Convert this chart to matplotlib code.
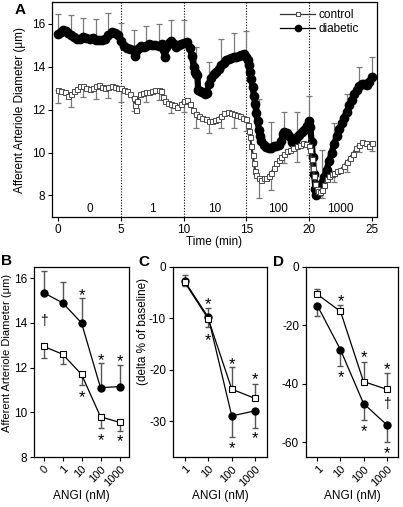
import numpy as np
import matplotlib
matplotlib.use("Agg")
import matplotlib.pyplot as plt
import matplotlib.transforms as mtransforms
from matplotlib.lines import Line2D

plt.rcParams["font.family"] = ["Liberation Sans", "DejaVu Sans"]
plt.rcParams["axes.unicode_minus"] = False

# ── Panel A: continuous diameter recordings ───────────────────────────────
ctl_t = [0.0, 0.25, 0.5, 0.75, 1.0, 1.25, 1.5, 1.75, 2.0, 2.25, 2.5, 2.75, 3.0, 3.25,
         3.5, 3.75, 4.0, 4.25, 4.5, 4.75, 5.0, 5.25, 5.5, 5.75, 6.0, 6.1, 6.2, 6.3,
         6.5, 6.75, 7.0, 7.25, 7.5, 7.75, 8.0, 8.2, 8.35, 8.5, 8.75, 9.0, 9.25, 9.5,
         9.75, 10.0, 10.25, 10.5, 10.75, 11.0, 11.25, 11.5, 11.75, 12.0, 12.25, 12.5,
         12.75, 13.0, 13.25, 13.5, 13.75, 14.0, 14.25, 14.5, 14.75, 15.0, 15.1, 15.2,
         15.3, 15.4, 15.5, 15.6, 15.7, 15.8, 16.0, 16.2, 16.4, 16.6, 16.8, 17.0, 17.2,
         17.4, 17.6, 17.8, 18.0, 18.25, 18.5, 18.75, 19.0, 19.25, 19.5, 19.75, 20.0,
         20.1, 20.2, 20.3, 20.4, 20.5, 20.6, 20.75, 20.9, 21.0, 21.2, 21.4, 21.6, 21.8,
         22.0, 22.25, 22.5, 22.75, 23.0, 23.25, 23.5, 23.75, 24.0, 24.25, 24.5, 24.75,
         25.0]
ctl_d = [12.9, 12.85, 12.8, 12.65, 12.7, 12.85, 12.95, 13.1, 13.1, 12.98, 12.95, 13.0,
         13.1, 13.12, 13.05, 13.0, 13.05, 13.1, 13.05, 13.0, 12.98, 12.9, 12.85, 12.7,
         12.55, 12.2, 11.97, 12.4, 12.7, 12.75, 12.8, 12.8, 12.85, 12.9, 12.92, 12.85,
         12.6, 12.4, 12.3, 12.25, 12.2, 12.1, 12.25, 12.38, 12.42, 12.25, 12.0, 11.8,
         11.7, 11.6, 11.55, 11.45, 11.45, 11.5, 11.55, 11.7, 11.85, 11.9, 11.85, 11.8,
         11.75, 11.68, 11.62, 11.55, 11.3, 11.0, 10.7, 10.3, 9.9, 9.5, 9.15, 8.95, 8.8,
         8.72, 8.8, 8.82, 8.9, 9.05, 9.3, 9.5, 9.65, 9.8, 9.92, 10.05, 10.12, 10.2,
         10.28, 10.35, 10.42, 10.4, 10.3, 10.1, 9.7, 9.3, 8.9, 8.55, 8.3, 8.2, 8.15,
         8.25, 8.5, 8.75, 8.9, 9.0, 9.05, 9.15, 9.2, 9.35, 9.55, 9.75, 9.95, 10.2,
         10.35, 10.5, 10.45, 10.3, 10.45]

dia_t = [0.0, 0.2, 0.4, 0.6, 0.8, 1.0, 1.25, 1.5, 1.75, 2.0, 2.25, 2.5, 2.75, 3.0,
         3.25, 3.5, 3.75, 4.0, 4.25, 4.5, 4.75, 5.0, 5.25, 5.5, 5.75, 6.0, 6.1, 6.2,
         6.4, 6.6, 6.8, 7.0, 7.25, 7.5, 7.75, 8.0, 8.25, 8.4, 8.5, 8.6, 8.8, 9.0, 9.2,
         9.4, 9.6, 9.8, 10.0, 10.25, 10.5, 10.65, 10.8, 10.9, 11.0, 11.1, 11.15, 11.3,
         11.5, 11.7, 11.85, 12.0, 12.2, 12.4, 12.6, 12.8, 13.0, 13.2, 13.4, 13.6, 13.8,
         14.0, 14.2, 14.4, 14.6, 14.8, 15.0, 15.1, 15.2, 15.3, 15.4, 15.5, 15.6, 15.7,
         15.8, 15.9, 16.0, 16.1, 16.2, 16.4, 16.6, 16.8, 17.0, 17.2, 17.4, 17.6, 17.8,
         17.9, 18.0, 18.2, 18.4, 18.6, 18.7, 18.85, 19.0, 19.2, 19.4, 19.6, 19.8, 20.0,
         20.1, 20.2, 20.3, 20.4, 20.5, 20.55, 20.65, 20.8, 21.0, 21.2, 21.4, 21.6,
         21.8, 22.0, 22.2, 22.4, 22.6, 22.8, 23.0, 23.2, 23.4, 23.6, 23.8, 24.0, 24.2,
         24.4, 24.6, 24.8, 25.0]
dia_d = [15.5, 15.6, 15.72, 15.65, 15.55, 15.45, 15.38, 15.3, 15.28, 15.35, 15.33,
         15.28, 15.32, 15.25, 15.22, 15.25, 15.3, 15.45, 15.62, 15.55, 15.45, 15.2,
         14.95, 14.85, 14.8, 14.75, 14.5, 14.7, 14.85, 14.95, 14.9, 14.95, 15.05,
         14.98, 15.0, 14.95, 15.05, 14.75, 14.45, 14.9, 15.1, 15.2, 15.05, 14.9, 15.0,
         15.05, 15.1, 15.12, 14.85, 14.5, 14.0, 13.75, 13.65, 13.6, 12.9, 12.85, 12.8,
         12.7, 12.75, 13.2, 13.45, 13.65, 13.75, 13.9, 14.05, 14.15, 14.3, 14.35, 14.4,
         14.45, 14.42, 14.5, 14.55, 14.58, 14.45, 14.3, 14.05, 13.75, 13.4, 13.05,
         12.65, 12.25, 11.85, 11.45, 11.05, 10.75, 10.55, 10.35, 10.25, 10.2, 10.22,
         10.28, 10.3, 10.35, 10.55, 10.85, 10.95, 10.9, 10.75, 10.5, 10.45, 10.55,
         10.7, 10.8, 10.95, 11.05, 11.25, 11.45, 11.2, 10.5, 9.8, 9.0, 8.3, 8.0, 8.1,
         8.35, 8.6, 8.85, 9.2, 9.6, 10.0, 10.4, 10.75, 11.1, 11.35, 11.6, 11.9, 12.2,
         12.45, 12.7, 12.9, 13.1, 13.2, 13.2, 13.15, 13.3, 13.5]

# SEM bars, one per minute (control drawn downward, diabetic upward)
sem_t = list(range(26))
ctl_sem = [0.61, 0.6, 0.53, 0.63, 0.53, 0.62, 0.6, 0.45, 0.5, 0.43, 0.48, 0.67, 0.55,
           0.57, 0.67, 0.55, 0.92, 0.79, 0.41, 0.7, 0.4, 0.35, 0.4, 0.45, 0.31, 0.4]
dia_sem = [0.96, 0.94, 0.93, 0.98, 1.04, 0.83, 0.97, 0.92, 1.05, 0.95, 1.05, 1.26,
           1.02, 1.21, 1.13, 1.21, 1.43, 1.21, 0.92, 1.17, 1.19, 1.52, 0.96, 0.82,
           0.89, 0.95]

period_edges = [5, 10, 15, 20]
period_mid = [2.5, 7.5, 12.5, 17.5, 22.5]
period_lab = ["0", "1", "10", "100", "1000"]

# ── Panels B–D: summary per ANGI dose ─────────────────────────────────────
b_doses = ["0", "1", "10", "100", "1000"]
b_ctl = [12.95, 12.6, 11.7, 9.8, 9.55]
b_ctl_sem = [0.5, 0.45, 0.5, 0.5, 0.37]
b_dia = [15.35, 14.9, 14.0, 11.1, 11.15]
b_dia_sem = [0.98, 0.95, 1.1, 1.1, 0.95]
b_star_ctl = [None, None, 10.85, 8.9, 8.85]
b_star_dia = [None, None, 15.4, 12.5, 12.45]

cd_doses = ["1", "10", "100", "1000"]
c_ctl = [-3.0, -10.1, -23.8, -25.6]
c_ctl_sem = [1.5, 2.1, 4.3, 2.9]
c_dia = [-2.8, -9.8, -29.0, -28.0]
c_dia_sem = [0.9, 1.9, 4.1, 3.3]
c_star_ctl = [None, -6.5, -18.3, -21.2]
c_star_dia = [None, -13.5, -34.6, -32.7]

d_ctl = [-9.4, -15.2, -39.2, -41.8]
d_ctl_sem = [1.8, 2.3, 6.8, 5.5]
d_dia = [-13.3, -28.3, -46.7, -53.9]
d_dia_sem = [3.5, 5.5, 5.5, 6.0]
d_star_ctl = [None, -10.5, -29.5, -33.8]
d_star_dia = [None, -36.4, -55.1, -62.5]

GREY_EB = "#7a7a7a"
CTL_EDGE = "#4a4a4a"

fig = plt.figure(figsize=(4.03, 5.07), dpi=100)


def style(ax):
    ax.tick_params(direction="out", length=3, width=0.8, labelsize=8.5, pad=2,
                   top=False, right=False)
    for s in ax.spines.values():
        s.set_linewidth(0.9)


# ── A ──
axA = fig.add_axes([0.129, 0.572, 0.806, 0.424])
style(axA)
ct, cd = np.array(ctl_t), np.array(ctl_d)
dt, dd = np.array(dia_t), np.array(dia_d)
st = np.array(sem_t)
c_at = cd[np.isin(ct, st)]
d_at = dd[np.isin(dt, st)]
axA.errorbar(st, c_at, yerr=[ctl_sem, np.zeros(len(st))], fmt="none",
             ecolor=GREY_EB, elinewidth=0.9, capsize=2.5, capthick=0.9, zorder=1)
axA.errorbar(st, d_at, yerr=[np.zeros(len(st)), dia_sem], fmt="none",
             ecolor=GREY_EB, elinewidth=0.9, capsize=2.5, capthick=0.9, zorder=1)
for x in period_edges:
    axA.axvline(x, color="black", lw=0.8, ls=(0, (1, 1.5)), zorder=0)
axA.plot(dt, dd, "-o", color="black", lw=4.5, ms=6, zorder=3)
axA.plot(ct, cd, "-s", color="#333333", lw=1.6, ms=3.6, mfc="white",
         mec=CTL_EDGE, mew=0.7, zorder=4)
for x, lab in zip(period_mid, period_lab):
    axA.text(x, 7.35, lab, ha="center", va="center", fontsize=8.5)
axA.set_xlim(-0.5, 25.4)
axA.set_ylim(7, 17)
axA.set_xticks([0, 5, 10, 15, 20, 25])
axA.set_yticks([8, 10, 12, 14, 16])
axA.set_xlabel("Time (min)", fontsize=8.5, labelpad=0)
axA.set_ylabel("Afferent Arteriole Diameter (\u03bcm)", fontsize=8.5, labelpad=4)
handles = [
    Line2D([], [], color="#333333", lw=0.9, marker="s", ms=3.5, mfc="white",
           mec=CTL_EDGE, mew=0.7),
    Line2D([], [], color="black", lw=0.9, marker="o", ms=4.5),
]
axA.legend(handles, ["control", "diabetic"], loc="upper left",
           bbox_to_anchor=(0.68, 1.0), frameon=False, fontsize=8.5,
           handlelength=3.0, handletextpad=0.3, labelspacing=0.15,
           borderaxespad=0.2)


def summary(ax, labels, ctl, ctl_sem, dia, dia_sem, st_ctl, st_dia, ctl_up):
    style(ax)
    x = np.arange(len(labels))
    z = np.zeros(len(x))
    ctl_err = [z, ctl_sem] if ctl_up else [ctl_sem, z]
    dia_err = [dia_sem, z] if ctl_up else [z, dia_sem]
    ax.errorbar(x, ctl, yerr=ctl_err, fmt="none", ecolor="#555555",
                elinewidth=1.0, capsize=2.5, capthick=1.0, zorder=1)
    ax.errorbar(x, dia, yerr=dia_err, fmt="none", ecolor="#555555",
                elinewidth=1.0, capsize=2.5, capthick=1.0, zorder=1)
    ax.plot(x, dia, "-o", color="black", lw=0.9, ms=5, zorder=3)
    ax.plot(x, ctl, "-s", color="black", lw=0.9, ms=4.2, mfc="white",
            mec="black", mew=0.8, zorder=4)
    # the asterisk glyph sits high in its text box, so nudge it down a bit
    star_tr = mtransforms.offset_copy(ax.transData, fig=fig, y=-4, units="dots")
    for xi, y in zip(x, st_ctl):
        if y is not None:
            ax.text(xi, y, "*", ha="center", va="center", fontsize=12,
                    transform=star_tr)
    for xi, y in zip(x, st_dia):
        if y is not None:
            ax.text(xi, y, "*", ha="center", va="center", fontsize=12,
                    transform=star_tr)
    ax.set_xticks(x)
    ax.set_xticklabels(labels, rotation=45, ha="right", va="top",
                       rotation_mode="anchor", fontsize=8)
    ax.set_xlim(-0.5, len(x) - 0.5)
    ax.set_xlabel("ANGI (nM)", fontsize=8.5, labelpad=1)


# ── B ──
axB = fig.add_axes([0.0844, 0.0986, 0.2357, 0.3748])
summary(axB, b_doses, b_ctl, b_ctl_sem, b_dia, b_dia_sem, b_star_ctl, b_star_dia,
        ctl_up=False)
axB.set_ylim(8, 16.5)
axB.set_yticks([8, 10, 12, 14, 16])
axB.text(0, 14.1, "\u2020", ha="center", va="center", fontsize=10)
axB.set_ylabel("Afferent Arteriole Diameter (\u03bcm)", fontsize=8)
axB.yaxis.set_label_coords(-0.23, 0.55)

# ── C ──
axC = fig.add_axes([0.4293, 0.0986, 0.2333, 0.3748])
summary(axC, cd_doses, c_ctl, c_ctl_sem, c_dia, c_dia_sem, c_star_ctl, c_star_dia,
        ctl_up=True)
axC.set_ylim(-37, 0)
axC.set_yticks([0, -10, -20, -30])
axC.set_ylabel("(delta % of baseline)", fontsize=8.5)
axC.yaxis.set_label_coords(-0.26, 0.66)

# ── D ──
axD = fig.add_axes([0.7593, 0.0986, 0.2283, 0.3748])
summary(axD, cd_doses, d_ctl, d_ctl_sem, d_dia, d_dia_sem, d_star_ctl, d_star_dia,
        ctl_up=True)
axD.set_ylim(-65, 0)
axD.set_yticks([0, -20, -40, -60])
axD.text(3, -47.0, "\u2020", ha="center", va="center", fontsize=10)

for lab, (px, py) in zip("ABCD", [(20, 10), (6, 261), (144, 262), (278, 262)]):
    fig.text(px / 403, 1 - py / 507, lab, fontsize=11, fontweight="bold",
             ha="center", va="center")

fig.savefig("out.png", dpi=100)
